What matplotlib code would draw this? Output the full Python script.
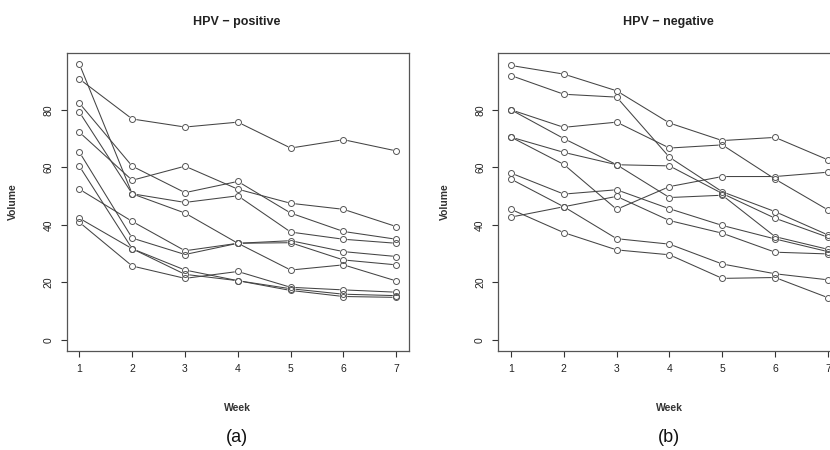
import matplotlib.pyplot as plt

plt.rcParams['font.family'] = ['Liberation Sans', 'DejaVu Sans']

weeks = [1, 2, 3, 4, 5, 6, 7]

# HPV-positive subjects: tumour volume per week
pos_volumes = [
    [90.7, 76.8, 74.0, 75.7, 66.7, 69.6, 65.7],
    [95.9, 50.8, 47.8, 50.1, 37.5, 35.0, 33.6],
    [79.2, 50.8, 44.1, 33.6, 34.5, 30.7, 29.0],
    [82.3, 60.4, 51.2, 55.1, 44.1, 37.7, 35.0],
    [72.2, 55.5, 60.4, 52.4, 47.5, 45.4, 39.4],
    [52.4, 41.2, 31.0, 33.6, 33.8, 27.8, 26.1],
    [65.3, 35.4, 29.7, 33.6, 24.3, 26.1, 20.5],
    [60.4, 31.7, 24.3, 20.6, 17.8, 15.9, 15.4],
    [42.3, 31.7, 22.8, 20.6, 17.2, 15.1, 14.8],
    [40.9, 25.7, 21.4, 23.8, 18.3, 17.4, 16.6],
]

# HPV-negative subjects
neg_volumes = [
    [95.4, 92.4, 86.6, 75.4, 69.3, 70.4, 62.6],
    [91.9, 85.4, 84.4, 63.5, 51.5, 44.6, 36.5],
    [80.0, 73.9, 75.7, 66.7, 67.8, 55.9, 45.2],
    [80.0, 70.0, 60.9, 60.5, 50.9, 42.3, 35.7],
    [70.5, 65.2, 60.9, 49.5, 50.3, 35.9, 31.5],
    [70.5, 61.0, 45.4, 53.3, 56.8, 56.8, 58.3],
    [58.0, 50.7, 52.2, 45.6, 39.8, 35.1, 30.7],
    [55.9, 46.3, 49.9, 41.5, 37.1, 30.5, 29.9],
    [42.7, 46.3, 35.2, 33.3, 26.4, 23.0, 20.9],
    [45.4, 37.3, 31.3, 29.6, 21.4, 21.7, 14.7],
]

titles = ['HPV \u2212 positive', 'HPV \u2212 negative']
panel_labels = ['(a)', '(b)']
yticks = [0, 20, 40, 60, 80]

fig = plt.figure(figsize=(8.3, 4.5), dpi=100)
W, H = 830, 450

# axes boxes in pixels: left, top, right, bottom
boxes = [(66.7, 52.7, 409, 351), (498.3, 52.7, 840.6, 351)]

for box, data, title, plabel in zip(boxes, [pos_volumes, neg_volumes], titles, panel_labels):
    l, t, r, b = box
    ax = fig.add_axes([l / W, 1 - b / H, (r - l) / W, (b - t) / H])
    # lines, then a white disc to break the line at each point, then the open circles
    for subj in data:
        ax.plot(weeks, subj, color='#444444', linewidth=0.75, zorder=2)
    for subj in data:
        ax.plot(weeks, subj, linestyle='none', marker='o', markersize=5.6,
                markerfacecolor='white', markeredgecolor='none', zorder=3)
    for subj in data:
        ax.plot(weeks, subj, linestyle='none', marker='o', markersize=4.3,
                markerfacecolor='none', markeredgecolor='#555555',
                markeredgewidth=0.7, zorder=4)
    ax.set_xlim(0.76, 7.24)
    ax.set_ylim(-3.84, 99.84)
    ax.set_xticks(weeks)
    ax.set_yticks(yticks)
    ax.tick_params(direction='out', length=4.5, width=0.8, colors='#333333',
                   labelsize=7.5, labelcolor='#222222')
    ax.tick_params(axis='x', pad=5)
    ax.tick_params(axis='y', pad=5)
    for lab in ax.get_yticklabels():
        lab.set_rotation(90)
        lab.set_va('center')
    for sp in ax.spines.values():
        sp.set_color('#555555')
        sp.set_linewidth(0.9)
    ax.set_ylabel('Volume', fontsize=7.5, fontweight='bold', color='#333333')
    ax.set_xlabel('Week', fontsize=7.5, fontweight='bold', color='#333333')
    ax.yaxis.set_label_coords((18 - 66.7) / (r - l), 0.5)
    ax.xaxis.set_label_coords(0.5, (b - 403) / (b - t))
    cx = (l + 237 - 66.7) / W
    fig.text(cx, 1 - 22 / H, title, ha='center', va='center',
             fontsize=9, fontweight='bold', color='#222222')
    fig.text(cx, 1 - 437 / H, plabel, ha='center', va='center',
             fontsize=13, color='#111111')

fig.savefig('out.png', dpi=100)
